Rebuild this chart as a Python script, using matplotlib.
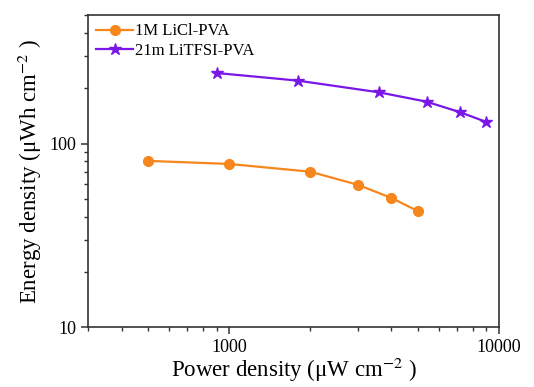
import matplotlib
matplotlib.use("Agg")
import matplotlib.pyplot as plt
from matplotlib.ticker import LogLocator, NullFormatter, FixedLocator, FixedFormatter

plt.rcParams['font.family'] = ['Liberation Serif', 'DejaVu Serif']
plt.rcParams['mathtext.fontset'] = 'stix'

# 1M LiCl-PVA
licl_power = [500, 1000, 2000, 3000, 4000, 5000]
licl_energy = [80.5, 77.5, 70.3, 59.7, 50.6, 43]

# 21m LiTFSI-PVA
litfsi_power = [900, 1800, 3600, 5400, 7200, 9000]
litfsi_energy = [242, 220, 190, 169, 148, 131]

x_ticks = [1000, 10000]
x_labels = ['1000', '10000']
y_ticks = [10, 100]
y_labels = ['10', '100']

orange = '#F7861C'
purple = '#7A17E8'

fig = plt.figure(figsize=(5.34, 3.87), dpi=100)
ax = fig.add_axes([0.165, 0.154, 0.769, 0.807])

ax.plot(licl_power, licl_energy, '-o', color=orange, lw=1.6, ms=7,
        label='1M LiCl-PVA')
ax.plot(litfsi_power, litfsi_energy, '-*', color=purple, lw=1.6, ms=9,
        label='21m LiTFSI-PVA')

ax.set_xscale('log')
ax.set_yscale('log')
ax.set_xlim(300, 10000)
ax.set_ylim(10, 500)

ax.xaxis.set_major_locator(FixedLocator(x_ticks))
ax.xaxis.set_major_formatter(FixedFormatter(x_labels))
ax.yaxis.set_major_locator(FixedLocator(y_ticks))
ax.yaxis.set_major_formatter(FixedFormatter(y_labels))
for axis in (ax.xaxis, ax.yaxis):
    axis.set_minor_locator(LogLocator(base=10, subs=range(2, 10), numticks=20))
    axis.set_minor_formatter(NullFormatter())

ax.tick_params(which='major', direction='out', length=5, width=1.1,
               labelsize=13, color='#333333', top=False, right=False)
ax.tick_params(which='minor', direction='out', length=3, width=1.0,
               color='#333333', top=False, right=False)
for sp in ax.spines.values():
    sp.set_linewidth(1.2)
    sp.set_color('#333333')

ax.set_xlabel('Power density (\u03bcW cm$^{-2}$ )', fontsize=16.5, labelpad=0)
ax.set_ylabel('Energy density (\u03bcWh cm$^{-2}$ )', fontsize=16.5, labelpad=4)

ax.legend(loc='upper left', frameon=False, fontsize=12, handlelength=2.2,
          handletextpad=0.1, borderaxespad=0.2, labelspacing=0.2,
          borderpad=0.3)

fig.savefig('out.png', dpi=100)
